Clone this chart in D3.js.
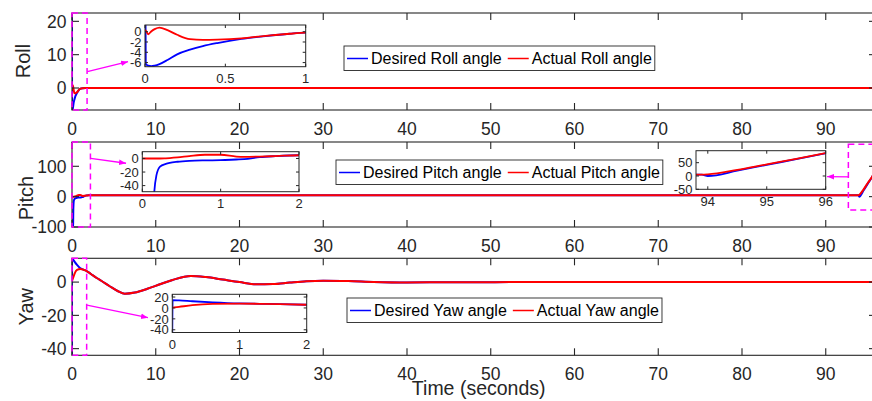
<!DOCTYPE html>
<html>
<head>
<meta charset="utf-8">
<script src="https://cdn.jsdelivr.net/npm/d3@7"></script>
<style>
  body { margin: 0; background: #fff; overflow: hidden; }
  svg { display: block; font-family: "Liberation Sans", Arial, sans-serif; }
</style>
</head>
<body>
<svg id="chart" width="872" height="401"></svg>
<script>
// ---- data ----
var timeTicks = [0, 10, 20, 30, 40, 50, 60, 70, 80, 90];

var rollT       = [0, 0.005, 0.02, 0.04, 0.06, 0.09, 0.14, 0.2, 0.28, 0.36, 0.45, 0.6, 0.75, 0.9, 1.0, 1.3, 1.6, 2.0, 3.0, 96];
var rollDesired = [22.2, -6.3, -6.6, -6.7, -6.6, -6.3, -5.5, -4.4, -3.5, -2.8, -2.2, -1.4, -0.85, -0.4, -0.2, -0.05, 0, 0, 0, 0];
var rollActual  = [0.3, 0.2, -0.5, 0.1, 0.5, 0.8, 0.3, -0.6, -1.45, -1.6, -1.55, -1.3, -0.8, -0.4, -0.2, -0.05, 0, 0, 0, 0];

var pitchT       = [0, 0.13, 0.153, 0.18, 0.226, 0.3, 0.35, 0.45, 0.6, 0.8, 1.0, 1.2, 1.3, 1.5, 1.7, 2.0, 3.0, 5.0, 93.9, 94.0, 94.5, 95.0, 95.5, 96];
var pitchDesired = [-100, -95, -49, -25, -12, -8, -6.4, -4.8, -3.5, -2.8, -2.5, -1.5, -1, 2, 3.5, 4.8, 5, 5, 5, 0, 20, 42, 63, 85];
var pitchActual  = [0, 0, 0, 0, 0, 0.3, 0.6, 1.5, 3.5, 5.5, 5.5, 2.8, 2.4, 2.8, 3.5, 4.8, 5, 5, 5, 6, 23, 44, 64, 86];

var yawT       = [0, 0.005, 0.1, 0.3, 0.6, 1.0, 1.3, 1.6, 2.0, 2.5, 3.0, 3.5, 4.5, 5.5, 6.3, 7.5, 9, 10.5, 12, 14.2, 16, 18, 20, 22, 24, 26, 28, 30, 33, 36, 40, 45, 55, 70, 96];
var yawDesired = [-44, 14.3, 13.8, 12.3, 10.3, 8.3, 7.6, 7.0, 5.8, 4.0, 2.3, 0.8, -2.5, -5.5, -7.0, -6.3, -4.0, -1.3, 1.3, 3.7, 3.0, 1.5, 0, -1.3, -1.2, -0.3, 0.5, 0.8, 0.6, 0.1, -0.2, -0.1, 0, 0, 0];
var yawActual  = [0.5, 0.6, 2.0, 5.0, 7.3, 7.9, 7.6, 7.0, 5.8, 4.0, 2.3, 0.8, -2.5, -5.5, -7.0, -6.3, -4.0, -1.3, 1.3, 3.7, 3.0, 1.5, 0, -1.3, -1.2, -0.3, 0.5, 0.8, 0.6, 0.1, -0.2, -0.1, 0, 0, 0];

var rollTicks  = [0, 10, 20];
var pitchTicks = [-100, 0, 100];
var yawTicks   = [-40, -20, 0];

var rollLegend  = ['Desired Roll angle', 'Actual Roll angle'];
var pitchLegend = ['Desired Pitch angle', 'Actual Pitch angle'];
var yawLegend   = ['Desired Yaw angle', 'Actual Yaw angle'];

var insetRollX   = [0, 0.5, 1],  insetRollY   = [0, -2, -4, -6];
var insetPitchX  = [0, 1, 2],    insetPitchY  = [0, -20, -40];
var insetPitch2X = [94, 95, 96], insetPitch2Y = [50, 0, -50];
var insetYawX    = [0, 1, 2],    insetYawY    = [20, 0, -20, -40];

// zoom boxes [t0, t1, v0, v1] and arrows [t0, v0, t1, v1], in main-panel units
var rollZoomBox   = [0, 1.8, -6.6, 22.5],  rollArrow   = [1.83, 4.9, 6.69, 7.9];
var pitchZoomBox  = [0, 2.2, -100, 180],   pitchArrow  = [2.23, 126, 6.45, 110];
var pitchZoomBox2 = [92.7, 97, -44, 173],  pitchArrow2 = [92.78, 65, 90.15, 66];
var yawZoomBox    = [0, 1.75, -44, 14.3],  yawArrow    = [1.79, -13.8, 9.07, -21.4];

// ---- drawing ----
var svg = d3.select('#chart');
var AX = '#262626', BLUE = '#0000ff', RED = '#ff0000', MAG = '#ff00ff';
var clipId = 0;

svg.append('defs').append('marker')
  .attr('id', 'arrow')
  .attr('viewBox', '0 0 10 10')
  .attr('refX', 10).attr('refY', 5)
  .attr('markerWidth', 7).attr('markerHeight', 7)
  .attr('markerUnits', 'userSpaceOnUse')
  .attr('orient', 'auto')
  .append('path').attr('d', 'M0,1L10,5L0,9Z').attr('fill', MAG);

function zip(t, v) { return t.map(function(d, i) { return [d, v[i]]; }); }

function axes(o) {
  var g = svg.append('g');
  var x = d3.scaleLinear().domain(o.xDom).range([o.x0, o.x1]);
  var y = d3.scaleLinear().domain(o.yDom).range([o.y1, o.y0]);
  var id = 'clip' + (clipId++);
  svg.select('defs').append('clipPath').attr('id', id)
    .append('rect').attr('x', o.x0).attr('y', o.y0)
    .attr('width', o.x1 - o.x0).attr('height', o.y1 - o.y0);

  g.append('rect').attr('x', o.x0).attr('y', o.y0)
    .attr('width', o.x1 - o.x0).attr('height', o.y1 - o.y0)
    .attr('fill', '#fff');

  var plot = g.append('g').attr('clip-path', 'url(#' + id + ')');

  var t = o.tick;
  var ticks = g.append('g').attr('stroke', AX).attr('stroke-width', o.sw);
  o.xTicks.forEach(function(d) {
    ticks.append('line').attr('x1', x(d)).attr('x2', x(d)).attr('y1', o.y1).attr('y2', o.y1 - t);
    ticks.append('line').attr('x1', x(d)).attr('x2', x(d)).attr('y1', o.y0).attr('y2', o.y0 + t);
  });
  o.yTicks.forEach(function(d) {
    ticks.append('line').attr('x1', o.x0).attr('x2', o.x0 + t).attr('y1', y(d)).attr('y2', y(d));
    ticks.append('line').attr('x1', o.x1).attr('x2', o.x1 - t).attr('y1', y(d)).attr('y2', y(d));
  });

  g.selectAll('.xl').data(o.xTicks).enter().append('text')
    .attr('x', function(d) { return x(d); })
    .attr('y', o.y1 + o.xGap)
    .attr('text-anchor', 'middle')
    .attr('font-size', o.font).attr('fill', AX)
    .text(function(d) { return d; });
  g.selectAll('.yl').data(o.yTicks).enter().append('text')
    .attr('x', o.x0 - o.yGap)
    .attr('y', function(d) { return y(d) + o.font * 0.36; })
    .attr('text-anchor', 'end')
    .attr('font-size', o.font).attr('fill', AX)
    .text(function(d) { return d; });

  return { g: g, plot: plot, x: x, y: y, o: o };
}

function series(a, t, desired, actual) {
  var line = d3.line()
    .x(function(d) { return a.x(d[0]); })
    .y(function(d) { return a.y(d[1]); })
    .curve(d3.curveMonotoneX);
  a.plot.append('path').datum(zip(t, desired))
    .attr('d', line).attr('fill', 'none').attr('stroke', BLUE).attr('stroke-width', a.o.lw);
  a.plot.append('path').datum(zip(t, actual))
    .attr('d', line).attr('fill', 'none').attr('stroke', RED).attr('stroke-width', a.o.lw);
}

function frame(a) {
  a.g.append('rect').attr('x', a.o.x0).attr('y', a.o.y0)
    .attr('width', a.o.x1 - a.o.x0).attr('height', a.o.y1 - a.o.y0)
    .attr('fill', 'none').attr('stroke', AX).attr('stroke-width', a.o.sw);
}

function zoomBox(a, b, arrow) {
  var x0 = a.x(b[0]), x1 = a.x(b[1]), y0 = a.y(b[3]), y1 = a.y(b[2]);
  svg.append('rect').attr('x', x0).attr('y', y0)
    .attr('width', x1 - x0).attr('height', y1 - y0)
    .attr('fill', 'none').attr('stroke', MAG)
    .attr('stroke-width', 1.5).attr('stroke-dasharray', '6,4');
  svg.append('line')
    .attr('x1', a.x(arrow[0])).attr('y1', a.y(arrow[1]))
    .attr('x2', a.x(arrow[2])).attr('y2', a.y(arrow[3]))
    .attr('stroke', MAG).attr('stroke-width', 1.3)
    .attr('marker-end', 'url(#arrow)');
}

function legend(left, top, labels) {
  var g = svg.append('g');
  var box = g.append('rect').attr('x', left).attr('y', top).attr('height', 24.5)
    .attr('fill', '#fff').attr('stroke', AX).attr('stroke-width', 0.9);
  var cx = left + 3, my = top + 12.5;
  [BLUE, RED].forEach(function(c, i) {
    g.append('line').attr('x1', cx).attr('x2', cx + 21).attr('y1', my).attr('y2', my)
      .attr('stroke', c).attr('stroke-width', 1.5);
    var tx = g.append('text').attr('x', cx + 24).attr('y', my + 5.8)
      .attr('font-size', 16).attr('fill', '#000').text(labels[i]);
    cx += 24 + tx.node().getComputedTextLength() + 6;
  });
  box.attr('width', cx - 6 + 3 - left);
}

function yLabel(x, y, txt) {
  svg.append('text').attr('transform', 'translate(' + x + ',' + y + ') rotate(-90)')
    .attr('text-anchor', 'middle').attr('font-size', 20).attr('fill', AX).text(txt);
}

var main = { x0: 72, x1: 876, xDom: [0, 96], xTicks: timeTicks, tick: 7, sw: 1.1,
             font: 17.5, xGap: 25, yGap: 5.5, lw: 2 };
function mainPanel(y0, y1, yDom, yTicks) {
  return axes(Object.assign({}, main, { y0: y0, y1: y1, yDom: yDom, yTicks: yTicks }));
}
function inset(x0, x1, y0, y1, xDom, yDom, xTicks, yTicks) {
  return axes({ x0: x0, x1: x1, y0: y0, y1: y1, xDom: xDom, yDom: yDom,
                xTicks: xTicks, yTicks: yTicks, tick: 3, sw: 1, font: 13,
                xGap: 16.5, yGap: 3.5, lw: 1.8 });
}

// Roll
var roll = mainPanel(13, 110, [-6.6, 22.5], rollTicks);
series(roll, rollT, rollDesired, rollActual);
frame(roll);
zoomBox(roll, rollZoomBox, rollArrow);
var rollIn = inset(145, 305.7, 25, 66.7, [0, 1], [-6.8, 1.3], insetRollX, insetRollY);
series(rollIn, rollT, rollDesired, rollActual);
frame(rollIn);
legend(344, 46, rollLegend);
yLabel(29.5, 61, 'Roll');

// Pitch
var pitch = mainPanel(142, 227, [-100, 180], pitchTicks);
series(pitch, pitchT, pitchDesired, pitchActual);
frame(pitch);
zoomBox(pitch, pitchZoomBox, pitchArrow);
zoomBox(pitch, pitchZoomBox2, pitchArrow2);
var pitchIn = inset(142.3, 299, 151.7, 191.7, [0, 2], [-49, 10], insetPitchX, insetPitchY);
series(pitchIn, pitchT, pitchDesired, pitchActual);
frame(pitchIn);
var pitchIn2 = inset(696, 825.7, 150.7, 189.3, [93.8, 96], [-50, 95], insetPitch2X, insetPitch2Y);
series(pitchIn2, pitchT, pitchDesired, pitchActual);
frame(pitchIn2);
legend(336, 160, pitchLegend);
yLabel(33, 198, 'Pitch');

// Yaw
var yaw = mainPanel(258.3, 355.3, [-44, 14.3], yawTicks);
series(yaw, yawT, yawDesired, yawActual);
frame(yaw);
zoomBox(yaw, yawZoomBox, yawArrow);
var yawIn = inset(172.3, 306.7, 294.3, 332.5, [0, 2], [-45, 25], insetYawX, insetYawY);
series(yawIn, yawT, yawDesired, yawActual);
frame(yawIn);
legend(347, 298, yawLegend);
yLabel(33, 306.7, 'Yaw');

svg.append('text').attr('x', 478.7).attr('y', 395)
  .attr('text-anchor', 'middle').attr('font-size', 19.5).attr('fill', AX)
  .text('Time (seconds)');
</script>
</body>
</html>
